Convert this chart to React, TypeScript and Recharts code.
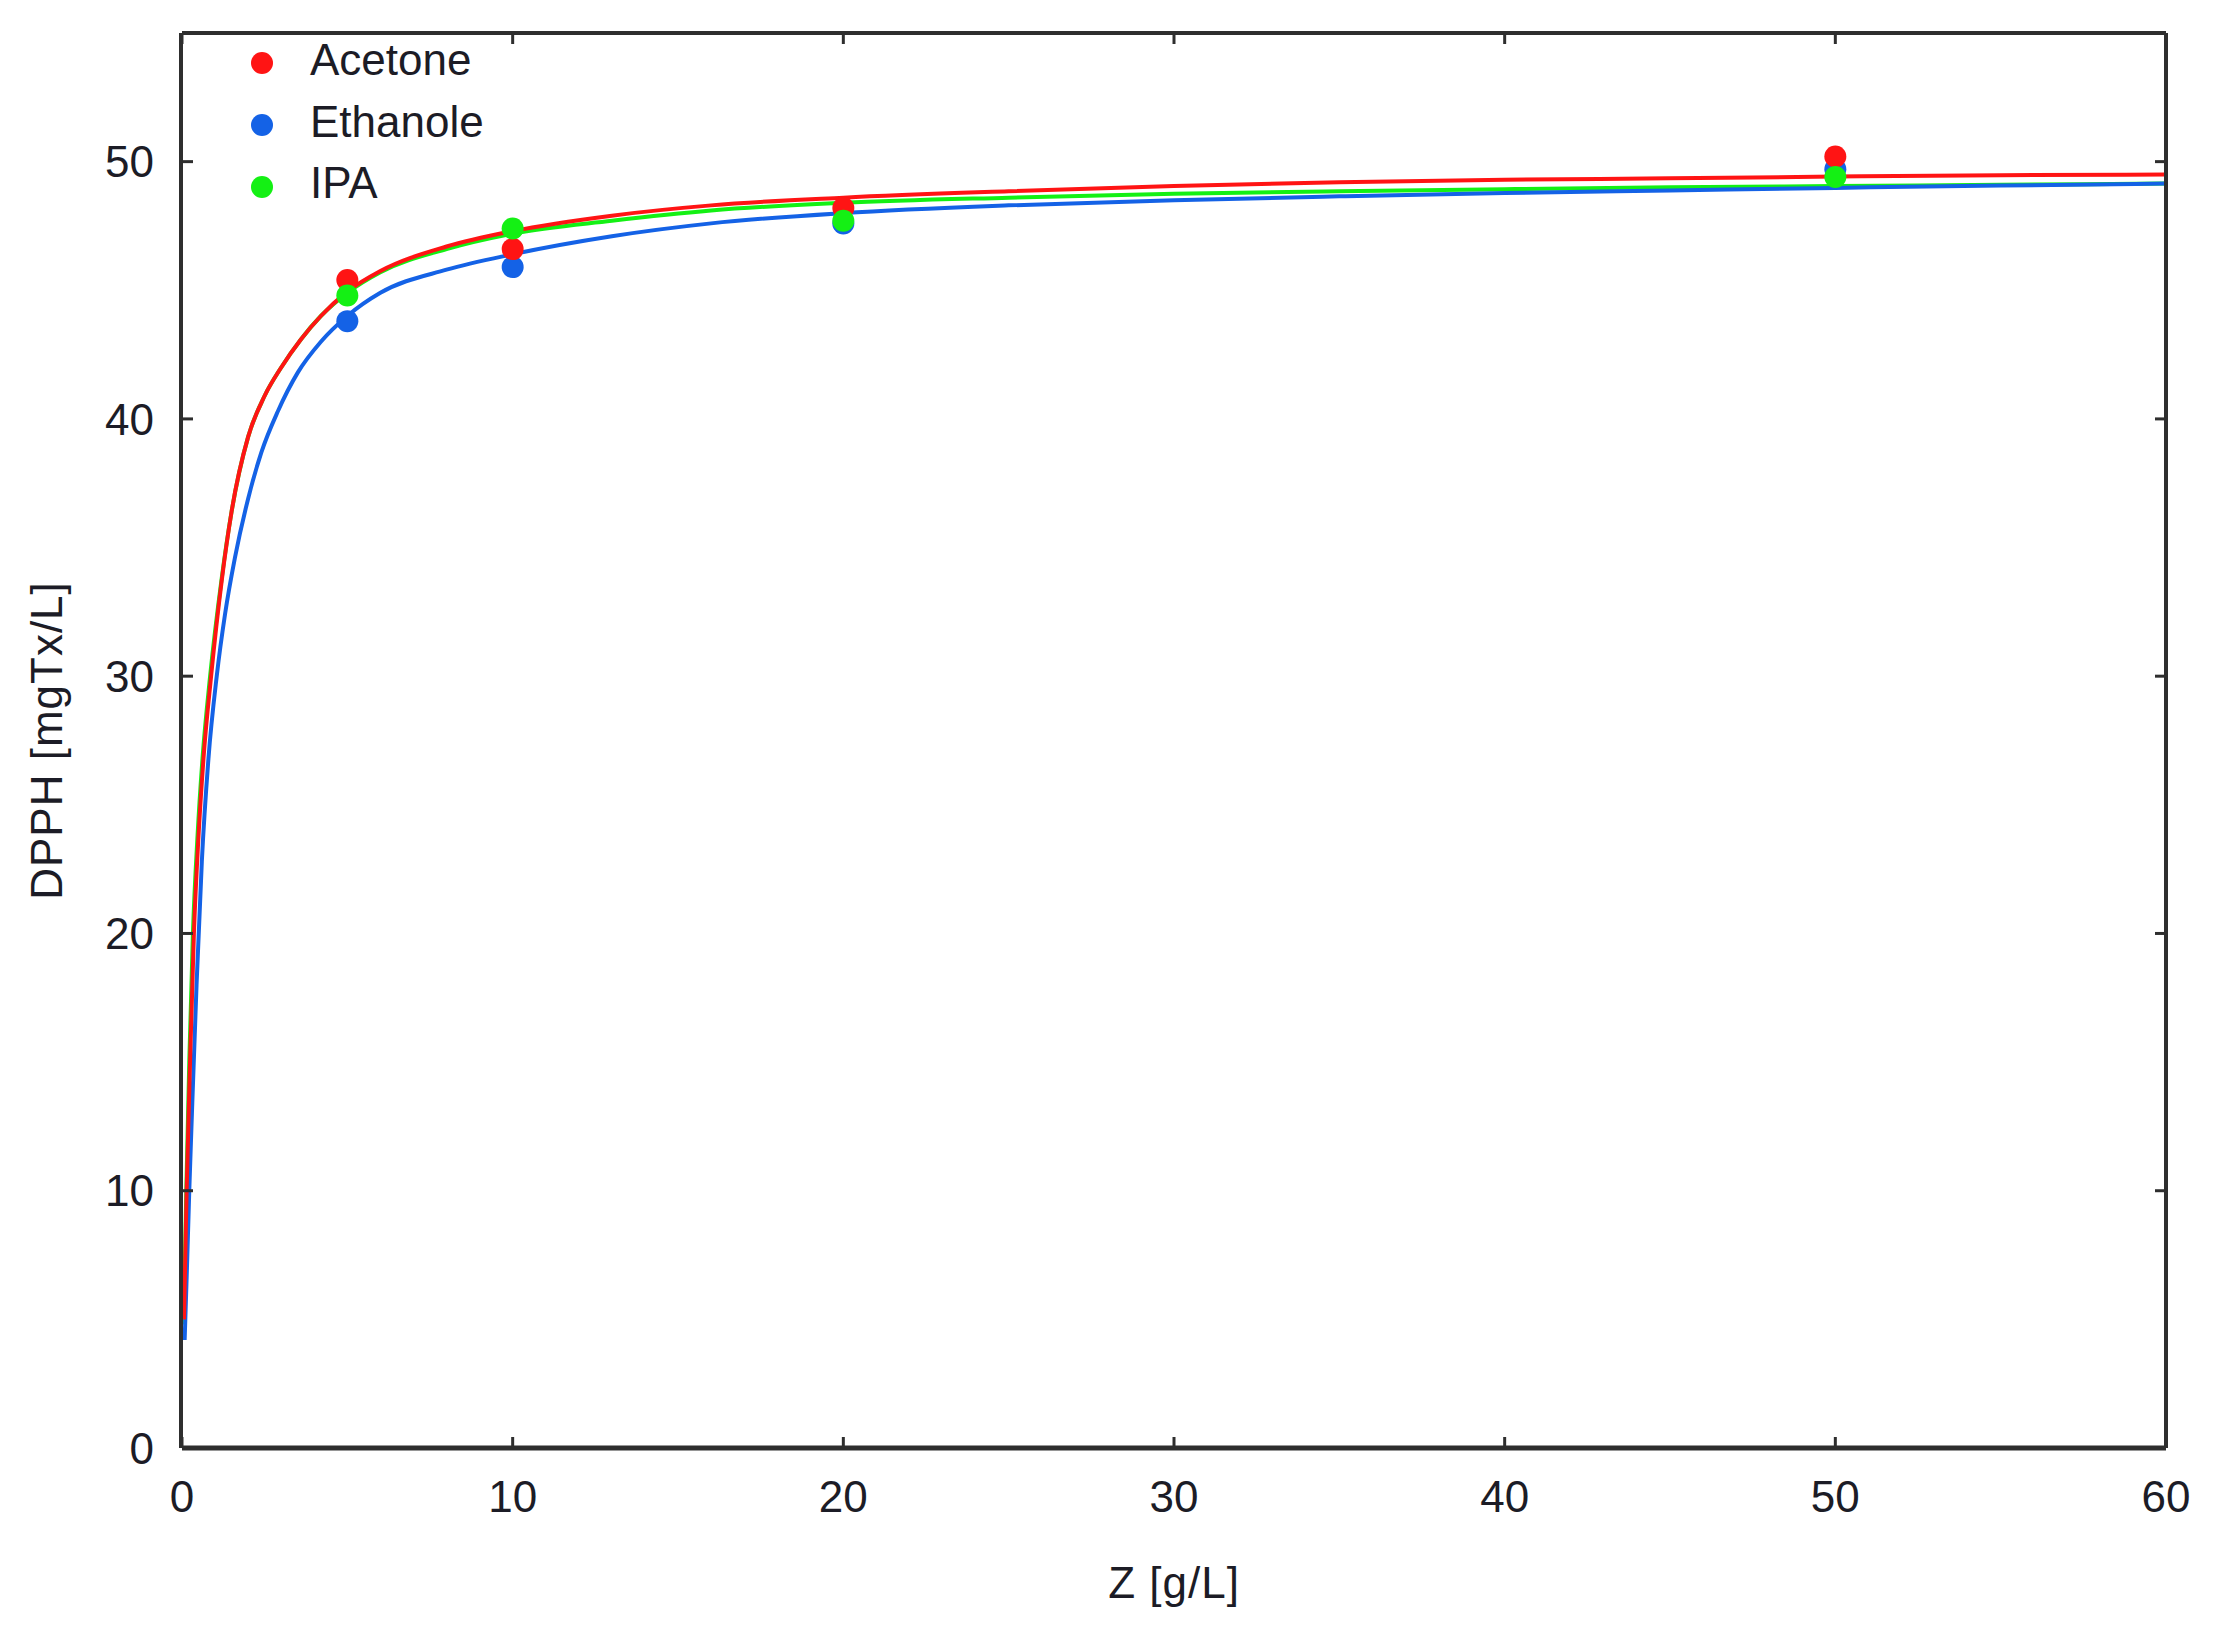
import React from 'react';
import {
  ComposedChart,
  Line,
  Scatter,
  XAxis,
  YAxis,
  Legend,
  Label,
} from 'recharts';

// ---- Data ----
const seriesNames = ['Acetone', 'Ethanole', 'IPA'];
const seriesColors = ['#ff1414', '#1462e6', '#14f014'];

const xTicks = [0, 10, 20, 30, 40, 50, 60];
const yTicks = [0, 10, 20, 30, 40, 50];

// measured points
const pointX = [5, 10, 20, 50];
const acetonePts = [45.4, 46.6, 48.2, 50.2];
const ethanolePts = [43.8, 45.9, 47.6, 49.7];
const ipaPts = [44.8, 47.4, 47.7, 49.4];

// fitted curves
const acetoneFitX = [0.06, 0.14, 0.25, 0.36, 0.5, 0.65, 0.88, 1.2, 1.5, 2, 2.5, 3, 3.6, 4.2, 5, 6, 8, 10, 13, 16, 20, 25, 30, 35, 40, 45, 50, 55, 60];
const acetoneFitY = [5.0, 10, 15.3, 20, 23.8, 26.8, 30, 33.7, 36.4, 39.3, 40.9, 42, 43.1, 44.0, 44.95, 45.75, 46.7, 47.3, 47.9, 48.3, 48.6, 48.85, 49.05, 49.2, 49.3, 49.35, 49.42, 49.47, 49.5];

const ethanoleFitX = [0.08, 0.15, 0.22, 0.3, 0.44, 0.6, 0.8, 1.05, 1.3, 1.6, 2, 2.4, 2.9, 3.5, 4.2, 5, 6, 8, 10, 13, 16, 20, 25, 30, 35, 40, 45, 50, 55, 60];
const ethanoleFitY = [4.2, 7, 10, 13, 18, 22.8, 26.8, 30, 32.4, 34.6, 36.9, 38.7, 40.3, 41.8, 43.0, 44.0, 44.9, 45.8, 46.4, 47.1, 47.6, 48, 48.3, 48.5, 48.65, 48.78, 48.88, 48.98, 49.07, 49.15];

const ipaFitX = [0.05, 0.13, 0.22, 0.33, 0.47, 0.62, 0.85, 1.2, 1.5, 2, 2.5, 3, 3.6, 4.2, 5, 6, 8, 10, 13, 16, 20, 25, 30, 35, 40, 45, 50, 55, 60];
const ipaFitY = [4.8, 10, 15, 20, 23.8, 26.8, 30, 33.8, 36.4, 39.3, 40.9, 42, 43.1, 44.0, 44.9, 45.7, 46.6, 47.2, 47.7, 48.1, 48.4, 48.6, 48.75, 48.85, 48.93, 49.0, 49.05, 49.1, 49.15];

const zip = (xs: number[], ys: number[]) => xs.map((x, i) => ({ x, y: ys[i] }));

const acetoneFit = zip(acetoneFitX, acetoneFitY);
const ethanoleFit = zip(ethanoleFitX, ethanoleFitY);
const ipaFit = zip(ipaFitX, ipaFitY);
const acetoneData = zip(pointX, acetonePts);
const ethanoleData = zip(pointX, ethanolePts);
const ipaData = zip(pointX, ipaPts);

const FONT = '"Liberation Sans", Arial, sans-serif';
const TEXT = '#1c1c26';
const FRAME = '#2e2e2e';
const TICK_LEN = 11;

const dotShape = (color: string) => (props: any) => (
  <circle cx={props.cx} cy={props.cy} r={11} fill={color} />
);

const topTick = (p: any) => (
  <line x1={p.x} x2={p.x} y1={p.y} y2={p.y + TICK_LEN} stroke={FRAME} strokeWidth={3} />
);
const rightTick = (p: any) => (
  <line x1={p.x - TICK_LEN} x2={p.x} y1={p.y} y2={p.y} stroke={FRAME} strokeWidth={3} />
);
const leftMarkTick = (p: any) => (
  <line x1={p.x} x2={p.x + TICK_LEN} y1={p.y} y2={p.y} stroke={FRAME} strokeWidth={3} />
);

const LegendContent = () => (
  <svg width={600} height={240} style={{ display: 'block' }}>
    {seriesNames.map((n, i) => (
      <g key={n}>
        <circle cx={262} cy={63 + i * 62} r={11} fill={seriesColors[i]} />
        <text x={310} y={75 + i * 61.5} fontSize={44} fontFamily={FONT} fill={TEXT}>
          {n}
        </text>
      </g>
    ))}
  </svg>
);

export default function App() {
  return (
    <div style={{ position: 'absolute', left: 0, top: 0, background: '#fff' }}>
      <ComposedChart
        width={2217}
        height={1635}
        margin={{ top: 32, right: 50, left: 0, bottom: 0 }}
      >
        <XAxis
          xAxisId="b"
          dataKey="x"
          type="number"
          domain={[0, 60]}
          ticks={xTicks}
          allowDataOverflow
          height={187}
          axisLine={{ stroke: FRAME, strokeWidth: 5 }}
          tickLine={{ stroke: FRAME, strokeWidth: 3 }}
          tickSize={-11}
          tickMargin={44}
          tick={{ fontSize: 44, fontFamily: FONT, fill: TEXT }}
        >
          <Label
            value="Z [g/L]"
            position="insideBottom"
            offset={37}
            style={{ fontSize: 44, fontFamily: FONT, fill: TEXT, letterSpacing: 1 }}
          />
        </XAxis>
        <XAxis
          xAxisId="t"
          dataKey="x"
          orientation="top"
          type="number"
          domain={[0, 60]}
          ticks={xTicks}
          allowDataOverflow
          height={1}
          tickLine={false}
          tickSize={0}
          tickMargin={0}
          tick={topTick}
          axisLine={{ stroke: FRAME, strokeWidth: 4 }}
        />
        {/* inner left axis: inward tick marks */}
        <YAxis
          yAxisId="a"
          type="number"
          domain={[0, 55]}
          ticks={yTicks}
          allowDataOverflow
          width={1}
          tickLine={false}
          tickSize={0}
          tickMargin={0}
          tick={leftMarkTick}
          axisLine={false}
        />
        {/* outer left axis: frame line, labels and title */}
        <YAxis
          yAxisId="l"
          type="number"
          domain={[0, 55]}
          ticks={yTicks}
          allowDataOverflow
          width={181}
          axisLine={{ stroke: FRAME, strokeWidth: 4 }}
          tickLine={false}
          tickSize={0}
          tickMargin={27}
          tick={{ fontSize: 44, fontFamily: FONT, fill: TEXT }}
        >
          <Label
            content={(p: any) => {
              const vb = p.viewBox || {};
              const cx = 62;
              const cy = (vb.y ?? 33) + (vb.height ?? 1415) / 2;
              return (
                <text
                  x={cx}
                  y={cy}
                  transform={`rotate(-90 ${cx} ${cy})`}
                  textAnchor="middle"
                  fontSize={44}
                  fontFamily={FONT}
                  fill={TEXT}
                  letterSpacing={1}
                >
                  DPPH [mgTx/L]
                </text>
              );
            }}
          />
        </YAxis>
        <YAxis
          yAxisId="r"
          orientation="right"
          type="number"
          domain={[0, 55]}
          ticks={yTicks}
          allowDataOverflow
          width={1}
          tickLine={false}
          tickSize={0}
          tickMargin={0}
          tick={rightTick}
          axisLine={{ stroke: FRAME, strokeWidth: 4 }}
        />

        <Line
          xAxisId="b"
          yAxisId="a"
          data={ipaFit}
          dataKey="y"
          type="monotone"
          stroke={seriesColors[2]}
          strokeWidth={4}
          dot={false}
          isAnimationActive={false}
          legendType="none"
        />
        <Line
          xAxisId="b"
          yAxisId="l"
          data={ethanoleFit}
          dataKey="y"
          type="monotone"
          stroke={seriesColors[1]}
          strokeWidth={4}
          dot={false}
          isAnimationActive={false}
          legendType="none"
        />
        <Line
          xAxisId="t"
          yAxisId="r"
          data={acetoneFit}
          dataKey="y"
          type="monotone"
          stroke={seriesColors[0]}
          strokeWidth={4}
          dot={false}
          isAnimationActive={false}
          legendType="none"
        />

        <Scatter
          xAxisId="b"
          yAxisId="l"
          name={seriesNames[1]}
          data={ethanoleData}
          dataKey="y"
          fill={seriesColors[1]}
          shape={dotShape(seriesColors[1])}
          isAnimationActive={false}
        />
        <Scatter
          xAxisId="b"
          yAxisId="l"
          name={seriesNames[0]}
          data={acetoneData}
          dataKey="y"
          fill={seriesColors[0]}
          shape={dotShape(seriesColors[0])}
          isAnimationActive={false}
        />
        <Scatter
          xAxisId="b"
          yAxisId="l"
          name={seriesNames[2]}
          data={ipaData}
          dataKey="y"
          fill={seriesColors[2]}
          shape={dotShape(seriesColors[2])}
          isAnimationActive={false}
        />

        <Legend
          layout="horizontal"
          verticalAlign="middle"
          align="center"
          content={LegendContent}
          wrapperStyle={{ left: 0, top: 0, width: 600, height: 240 }}
        />
      </ComposedChart>
    </div>
  );
}
